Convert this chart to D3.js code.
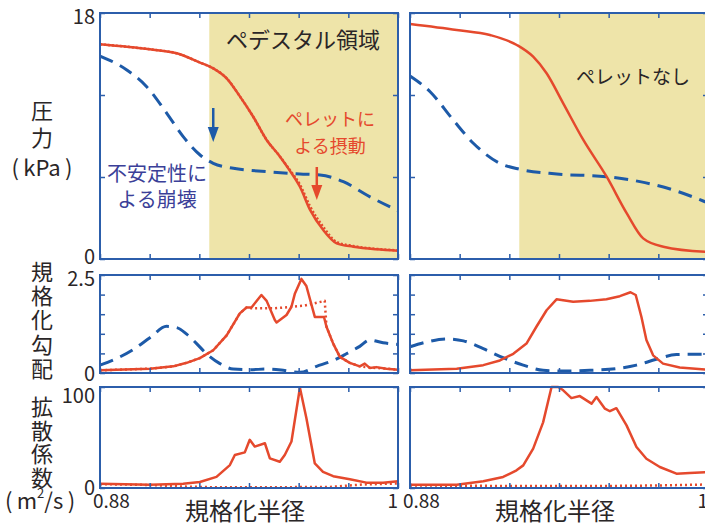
<!DOCTYPE html>
<html><head><meta charset="utf-8">
<script src="https://cdn.jsdelivr.net/npm/d3@7"></script>
<style>
html,body{margin:0;padding:0;background:#fff;}
svg{display:block;font-family:"Noto Sans CJK JP","Noto Sans",sans-serif;}
</style></head>
<body>
<svg id="chart" width="705" height="525"></svg>
<script>
// ---------------- data ----------------
const xDomain = [0.88, 1.0];
const xTicks = [0.88, 0.90, 0.92, 0.94, 0.96, 0.98, 1.0];
const pressureTicks = [0, 6, 12, 18];
const gradientTicks = [0, 0.5, 1, 1.5, 2, 2.5];
const diffusionTicks = [0, 100];
const pedestalStart = 0.924;

// pressure (kPa), with pellet (left)
const pressPelletSolid = [[0.88,15.71],[0.9001,15.34],[0.9109,15.05],[0.9203,14.37],[0.9256,13.95],[0.931,13.22],[0.9364,11.88],[0.9417,10.41],[0.9471,8.71],[0.9525,7.49],[0.9565,6.45],[0.9605,5.29],[0.9646,3.59],[0.9699,2.12],[0.9753,1.15],[0.982,0.9],[0.9914,0.71],[1.0,0.61]];
const pressPelletDotted = [[0.88,15.71],[0.9001,15.34],[0.9109,15.05],[0.9203,14.37],[0.9256,13.95],[0.931,13.22],[0.9364,11.88],[0.9417,10.41],[0.9471,8.71],[0.9525,7.49],[0.9565,6.5],[0.9605,5.45],[0.9646,3.85],[0.9699,2.35],[0.9753,1.25],[0.982,0.95],[0.9914,0.74],[1.0,0.63]];
const pressPelletCollapse = [[0.88,14.85],[0.8908,13.83],[0.8988,12.61],[0.9069,10.66],[0.9135,8.95],[0.9203,7.61],[0.9256,7.0],[0.9337,6.64],[0.9471,6.39],[0.9605,6.22],[0.9686,6.15],[0.978,5.66],[0.9874,4.68],[1.0,3.53]];
// pressure, no pellet (right)
const pressNoPellet = [[0.88,17.2],[0.8988,16.76],[0.9122,16.39],[0.923,15.66],[0.9296,14.8],[0.935,13.59],[0.9417,11.39],[0.9498,8.71],[0.9592,6.02],[0.9673,3.34],[0.9739,1.51],[0.982,0.9],[0.9988,0.53],[1.0,0.52]];
const pressNoPelletCollapse = [[0.88,13.39],[0.8881,12.24],[0.8974,10.17],[0.9055,8.47],[0.9162,7.0],[0.9243,6.56],[0.9391,6.22],[0.9592,6.02],[0.9726,5.66],[0.986,5.05],[0.9988,4.19],[1.0,4.1]];

// normalized gradient, with pellet (left)
const gradPelletSolid = [[0.88,0.068],[0.9001,0.11],[0.9095,0.17],[0.9149,0.26],[0.9202,0.38],[0.9256,0.58],[0.931,0.96],[0.9363,1.52],[0.939,1.67],[0.941,1.67],[0.945,1.99],[0.9471,1.84],[0.9504,1.35],[0.9511,1.29],[0.9551,1.48],[0.9571,1.69],[0.9585,2.03],[0.9611,2.4],[0.9631,2.22],[0.9665,1.43],[0.9702,1.43],[0.9712,1.18],[0.9739,0.75],[0.9766,0.41],[0.9806,0.26],[0.9846,0.17],[0.9866,0.24],[0.9886,0.13],[0.9913,0.15],[0.9953,0.11],[1.0,0.085]];
const gradPelletDotted = [[0.88,0.068],[0.9001,0.11],[0.9095,0.17],[0.9149,0.26],[0.9202,0.38],[0.9256,0.58],[0.931,0.96],[0.9363,1.52],[0.939,1.67],[0.941,1.65],[0.9504,1.65],[0.9625,1.72],[0.9705,1.84],[0.9712,1.18],[0.9739,0.75],[0.9766,0.41],[0.9806,0.26],[0.9846,0.17],[0.9886,0.14],[0.9953,0.11],[1.0,0.085]];
const gradPelletCollapse = [[0.88,0.2],[0.8867,0.37],[0.8934,0.6],[0.9001,0.9],[0.9068,1.19],[0.9108,1.16],[0.9149,0.99],[0.9189,0.75],[0.9229,0.49],[0.9283,0.24],[0.9336,0.1],[0.9403,0.085],[0.9471,0.1],[0.9538,0.07],[0.9605,0.017],[0.9672,0.17],[0.9739,0.32],[0.9792,0.49],[0.9846,0.68],[0.9886,0.84],[0.994,0.77],[1.0,0.73]];
// normalized gradient, no pellet (right)
const gradNoPellet = [[0.88,0.068],[0.8988,0.11],[0.9095,0.2],[0.9162,0.32],[0.9216,0.49],[0.9269,0.75],[0.9309,1.18],[0.935,1.6],[0.939,1.88],[0.9457,1.82],[0.9524,1.84],[0.9591,1.88],[0.9645,1.96],[0.9688,2.06],[0.9709,1.99],[0.9732,1.43],[0.9752,0.84],[0.9779,0.45],[0.9819,0.24],[0.9886,0.14],[1.0,0.08]];
const gradNoPelletCollapse = [[0.88,0.67],[0.8867,0.79],[0.8947,0.87],[0.9015,0.82],[0.9095,0.62],[0.9175,0.39],[0.9256,0.2],[0.9336,0.068],[0.9417,0.05],[0.9524,0.068],[0.9631,0.11],[0.9712,0.2],[0.9792,0.35],[0.9873,0.47],[1.0,0.48]];

// diffusion coefficient (m2/s), with pellet (left)
const diffPelletSolid = [[0.88,4.3],[0.9001,3.3],[0.9135,4.3],[0.9202,6],[0.9269,11],[0.9323,22.7],[0.9343,32.7],[0.9383,35.3],[0.9403,47.7],[0.9423,41],[0.9464,44.3],[0.9484,29.3],[0.9524,26],[0.9544,32.7],[0.9571,46],[0.9605,99.3],[0.9631,69.3],[0.9665,24.3],[0.9698,16],[0.9739,11.7],[0.9806,8.7],[0.9873,5.3],[0.994,5.3],[1.0,6.7]];
const diffPelletDotted = [[0.88,3.8],[0.9001,3.0],[0.912,1.5],[0.925,0.8],[0.95,0.8],[0.972,1.0],[0.978,2.0],[0.986,3.5],[1.0,4.5]];
// diffusion, no pellet (right)
const diffNoPellet = [[0.88,3.3],[0.8988,3.3],[0.9095,6.6],[0.9175,10.9],[0.9229,17.5],[0.9256,22.4],[0.9296,39],[0.9336,65],[0.937,100],[0.9397,100],[0.9417,96.7],[0.945,89],[0.9484,91],[0.9531,83.5],[0.9551,90],[0.9585,78.5],[0.9605,76],[0.9631,79],[0.9672,62],[0.9712,40.6],[0.9752,29],[0.9806,20.8],[0.9873,14.2],[0.9926,14.9],[1.0,15.8]];
const diffNoPelletDotted = [[0.88,2.5],[0.92,2.0],[0.96,2.0],[0.98,2.5],[1.0,3.5]];

// ---------------- style / layout ----------------
const RED = "#e5492d", BLUE = "#1d5aa8", FRAME = "#2c5eab", SHADE = "#eee4a9";
const TEXT_BLUE = "#3b3f98", TEXT_DARK = "#2a2627";
const cols = [[100, 398], [410, 708]];
const rows = [[13, 259], [275, 373], [387, 488]];

const svg = d3.select("#chart");

function panel(col, row, yDomain, yTicks, opts) {
  const x = d3.scaleLinear().domain(xDomain).range(cols[col]);
  const y = d3.scaleLinear().domain(yDomain).range([rows[row][1], rows[row][0]]);
  const g = svg.append("g");
  if (opts.shade) {
    g.append("rect").attr("x", x(pedestalStart)).attr("y", y(yDomain[1]))
      .attr("width", x(xDomain[1]) - x(pedestalStart)).attr("height", y(yDomain[0]) - y(yDomain[1]))
      .attr("fill", SHADE);
  }
  (opts.series || []).forEach(s => {
    const line = d3.line().x(d => x(d[0])).y(d => y(d[1]))
      .curve(s.smooth ? d3.curveMonotoneX : d3.curveLinear);
    g.append("path").datum(s.data).attr("d", line).attr("fill", "none")
      .attr("stroke", s.color).attr("stroke-width", s.width || 2.5)
      .attr("stroke-dasharray", s.dash || null).attr("stroke-linejoin", "round");
  });
  const ax = (gen, tr) => g.append("g").attr("transform", tr).call(gen)
    .call(s => { s.select(".domain").remove(); s.selectAll("text").remove();
      s.selectAll("line").attr("stroke", FRAME).attr("stroke-width", 1.5); });
  ax(d3.axisBottom(x).tickValues(xTicks).tickSize(-5), `translate(0,${rows[row][1]})`);
  ax(d3.axisTop(x).tickValues(xTicks).tickSize(-5), `translate(0,${rows[row][0]})`);
  ax(d3.axisLeft(y).tickValues(yTicks).tickSize(-5), `translate(${cols[col][0]},0)`);
  ax(d3.axisRight(y).tickValues(yTicks).tickSize(-5), `translate(${cols[col][1]},0)`);
  g.append("rect").attr("x", cols[col][0]).attr("y", rows[row][0])
    .attr("width", cols[col][1] - cols[col][0]).attr("height", rows[row][1] - rows[row][0])
    .attr("fill", "none").attr("stroke", FRAME).attr("stroke-width", 2);
  return { x, y, g };
}

const dashBlue = { color: BLUE, dash: "14,8", width: 3, smooth: true };
const pTL = panel(0, 0, [0, 18], pressureTicks, { shade: true, series: [
  Object.assign({ data: pressPelletCollapse }, dashBlue),
  { data: pressPelletDotted, color: RED, dash: "2,2", width: 2.5, smooth: true },
  { data: pressPelletSolid, color: RED, smooth: true } ] });
panel(1, 0, [0, 18], pressureTicks, { shade: true, series: [
  Object.assign({ data: pressNoPelletCollapse }, dashBlue),
  { data: pressNoPellet, color: RED, smooth: true } ] });
panel(0, 1, [0, 2.5], gradientTicks, { series: [
  Object.assign({ data: gradPelletCollapse }, dashBlue),
  { data: gradPelletDotted, color: RED, dash: "2,3", width: 2.5 },
  { data: gradPelletSolid, color: RED } ] });
panel(1, 1, [0, 2.5], gradientTicks, { series: [
  Object.assign({ data: gradNoPelletCollapse }, dashBlue),
  { data: gradNoPellet, color: RED } ] });
panel(0, 2, [0, 100], diffusionTicks, { series: [
  { data: diffPelletDotted, color: RED, dash: "2,3", width: 2.5 },
  { data: diffPelletSolid, color: RED } ] });
panel(1, 2, [0, 100], diffusionTicks, { series: [
  { data: diffNoPelletDotted, color: RED, dash: "2,3", width: 2.5 },
  { data: diffNoPellet, color: RED } ] });

// arrows
function arrow(p, r, v0, v1, color) {
  const x = p.x(r), ya = p.y(v0), yb = p.y(v1);
  p.g.append("line").attr("x1", x).attr("x2", x).attr("y1", ya).attr("y2", yb - 12)
    .attr("stroke", color).attr("stroke-width", 2.5);
  p.g.append("path").attr("d", `M${x-5.5},${yb-15}L${x+5.5},${yb-15}L${x},${yb}Z`).attr("fill", color);
}
arrow(pTL, 0.9256, 11.05, 8.56, BLUE);
arrow(pTL, 0.9673, 6.73, 4.32, RED);

// texts
function txt(s, x, y, size, color, anchor) {
  return svg.append("text").attr("x", x).attr("y", y).attr("font-size", size)
    .attr("fill", color || TEXT_DARK).attr("text-anchor", anchor || "middle")
    .attr("dominant-baseline", "central").text(s);
}
txt("ペデスタル領域", 303, 38, 22);
txt("ペレットに", 330, 118, 18, RED);
txt("よる摂動", 330, 145, 18, RED);
txt("不安定性に", 157, 172, 20, TEXT_BLUE);
txt("よる崩壊", 157, 198, 20, TEXT_BLUE);
txt("ペレットなし", 633, 75, 19);

// y tick labels
txt("18", 95, 15, 20, TEXT_DARK, "end");
txt("0", 95, 255, 20, TEXT_DARK, "end");
txt("2.5", 95, 277, 20, TEXT_DARK, "end");
txt("0", 95, 372, 20, TEXT_DARK, "end");
txt("100", 95, 394, 20, TEXT_DARK, "end");
txt("0", 95, 486, 20, TEXT_DARK, "end");
// x tick labels
cols.forEach(c => {
  txt("0.88", c[0] - 7, 499, 19, TEXT_DARK, "start");
  txt("1", c[1], 499, 19, TEXT_DARK, "end");
  txt("規格化半径", (c[0] + c[1]) / 2 - 4, 509, 24);
});
// y axis labels
txt("圧", 42, 109, 22);
txt("力", 42, 136, 22);
txt("(\u2009kPa\u2009)", 42, 166, 22);
["規", "格", "化", "勾", "配"].forEach((ch, i) => txt(ch, 42, 270 + i * 24.2, 22));
["拡", "散", "係", "数"].forEach((ch, i) => txt(ch, 42, 405 + i * 23.5, 22));
const m = txt("", 40, 499, 22);
m.append("tspan").text("(\u2009m");
m.append("tspan").attr("font-size", 13).attr("dy", -7).text("2");
m.append("tspan").attr("dy", 7).text("/s\u2009)");
</script>
</body></html>
